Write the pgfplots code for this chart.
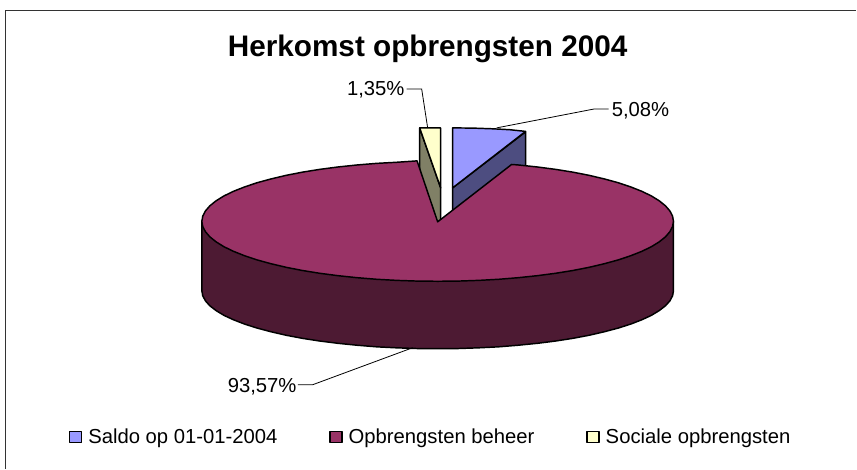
\documentclass[border=0pt]{standalone}
\usepackage{pgfplots}
\pgfplotsset{compat=1.18}
\usepackage{fontspec}
\setmainfont{Liberation Sans}

\definecolor{saldo}{HTML}{9999FF}
\definecolor{saldoside}{HTML}{4D4D80}
\definecolor{beheer}{HTML}{993366}
\definecolor{beheerside}{HTML}{4D1A33}
\definecolor{sociaal}{HTML}{FFFFCC}
\definecolor{sociaalside}{HTML}{808066}

\begin{document}
\begin{tikzpicture}
\begin{axis}[
    scale only axis,
    width=642.75pt,
    height=351.75pt,
    xmin=0, xmax=857,
    ymin=0, ymax=469,
    y dir=reverse,
    axis lines=none,
    clip=false,
    legend columns=3,
    legend cell align=left,
    legend style={
        at={(axis cs:69,437.5)}, anchor=west,
        draw=none, fill=none, inner sep=0pt, outer sep=0pt,
        font=\fontsize{15.2}{18}\selectfont,
        /tikz/every even column/.append style={column sep=37pt},
    },
    legend image code/.code={
        \draw[#1, line width=1pt] (0pt,-4.2pt) rectangle (9pt,4.2pt);
        \path[draw=none, fill=none] (0pt,0pt) -- (12pt,0pt);
    },
]
% keeps the whole 857x469 canvas in the page
\path (axis cs:0,0) -- (axis cs:857,469);
% pieces back to front, pixel coordinates of the picture
\addplot[draw=black, line width=1.1pt, fill=saldoside, line join=round, forget plot]
    coordinates {(453,188) (526,132) (526,172) (453,225)} -- cycle;
\addplot[draw=black, line width=1.1pt, fill=saldo, line join=round]
    coordinates {(453,188) (453,128) (473,128.2) (493,128.9) (510,129.8) (526,131.5)} -- cycle;
\addlegendentry{Saldo op 01-01-2004}
\addplot[draw=black, line width=1.1pt, fill=sociaalside, line join=round, forget plot]
    coordinates {(420,128) (441,188) (441,235) (420,175)} -- cycle;
\addplot[draw=black, line width=1.1pt, fill=beheerside, line join=round, forget plot]
    coordinates {(674,221.5) (674,291) (673.1,296) (670.4,301.1) (666,306) (659.8,310.8)
    (651.9,315.6) (642.4,320) (631.3,324.3) (618.8,328.3) (604.9,332) (589.7,335.5)
    (573.4,338.6) (556,341.3) (537.7,343.6) (518.7,345.5) (499.1,347.1) (479,348.1)
    (458.6,348.8) (438,349) (417.4,348.8) (397,348.1) (376.9,347.1) (357.3,345.5)
    (338.3,343.6) (320,341.3) (302.6,338.6) (286.3,335.5) (271.1,332) (257.2,328.3)
    (244.7,324.3) (233.6,320) (224.1,315.6) (216.2,310.8) (210,306) (205.6,301.1)
    (202.9,296) (202,291) (202,221.5)} -- cycle;
\addplot[draw=black, line width=1.1pt, fill=beheer, line join=round]
    coordinates {(438,222) (512,164.6) (518.7,165.1) (537.7,167.1) (556,169.5) (573.4,172.3)
    (589.7,175.5) (604.9,179.1) (618.8,182.9) (631.3,187.1) (642.4,191.5) (651.9,196.1)
    (659.8,201) (666,206) (670.4,211.1) (673.1,216.3) (674,221.5) (673.1,226.7) (670.4,231.9)
    (666,237) (659.8,242) (651.9,246.9) (642.4,251.5) (631.3,255.9) (618.8,260.1) (604.9,263.9)
    (589.7,267.5) (573.4,270.7) (556,273.5) (537.7,275.9) (518.7,277.9) (499.1,279.5)
    (479,280.6) (458.6,281.3) (438,281.5) (417.4,281.3) (397,280.6) (376.9,279.5) (357.3,277.9)
    (338.3,275.9) (320,273.5) (302.6,270.7) (286.3,267.5) (271.1,263.9) (257.2,260.1)
    (244.7,255.9) (233.6,251.5) (224.1,246.9) (216.2,242) (210,237) (205.6,231.9) (202.9,226.7)
    (202,221.5) (202.9,216.3) (205.6,211.1) (210,206) (216.2,201) (224.1,196.1) (233.6,191.5)
    (244.7,187.1) (257.2,182.9) (271.1,179.1) (286.3,175.5) (302.6,172.3) (320,169.5)
    (338.3,167.1) (357.3,165.1) (376.9,163.5) (397,162.4) (417.4,161)} -- cycle;
\addlegendentry{Opbrengsten beheer}
\addplot[draw=black, line width=1.1pt, fill=sociaal, line join=round]
    coordinates {(420,128) (441,128) (441,188)} -- cycle;
\addlegendentry{Sociale opbrengsten}

% leader lines
\addplot[draw=black, line width=0.6pt, forget plot] coordinates {(497,128) (595,109) (609,109)};
\addplot[draw=black, line width=0.6pt, forget plot] coordinates {(407,89) (422,89) (428,128)};
\addplot[draw=black, line width=0.6pt, forget plot] coordinates {(298,385) (313,385) (413,348)};

% title and value labels
\node[anchor=center, inner sep=0pt, font=\bfseries\fontsize{22.3}{26}\selectfont]
    at (axis cs:428,49) {Herkomst opbrengsten 2004};
\node[anchor=east, inner sep=0pt, font=\fontsize{15.2}{18}\selectfont] at (axis cs:405,90) {1,35\%};
\node[anchor=west, inner sep=0pt, font=\fontsize{15.2}{18}\selectfont] at (axis cs:612,111) {5,08\%};
\node[anchor=east, inner sep=0pt, font=\fontsize{15.2}{18}\selectfont] at (axis cs:297,387) {93,57\%};

% chart area border
\draw[draw=black!80, line width=1pt] (axis cs:5.5,469) -- (axis cs:5.5,10.5) -- (axis cs:857,10.5);
\end{axis}
\end{tikzpicture}
\end{document}
